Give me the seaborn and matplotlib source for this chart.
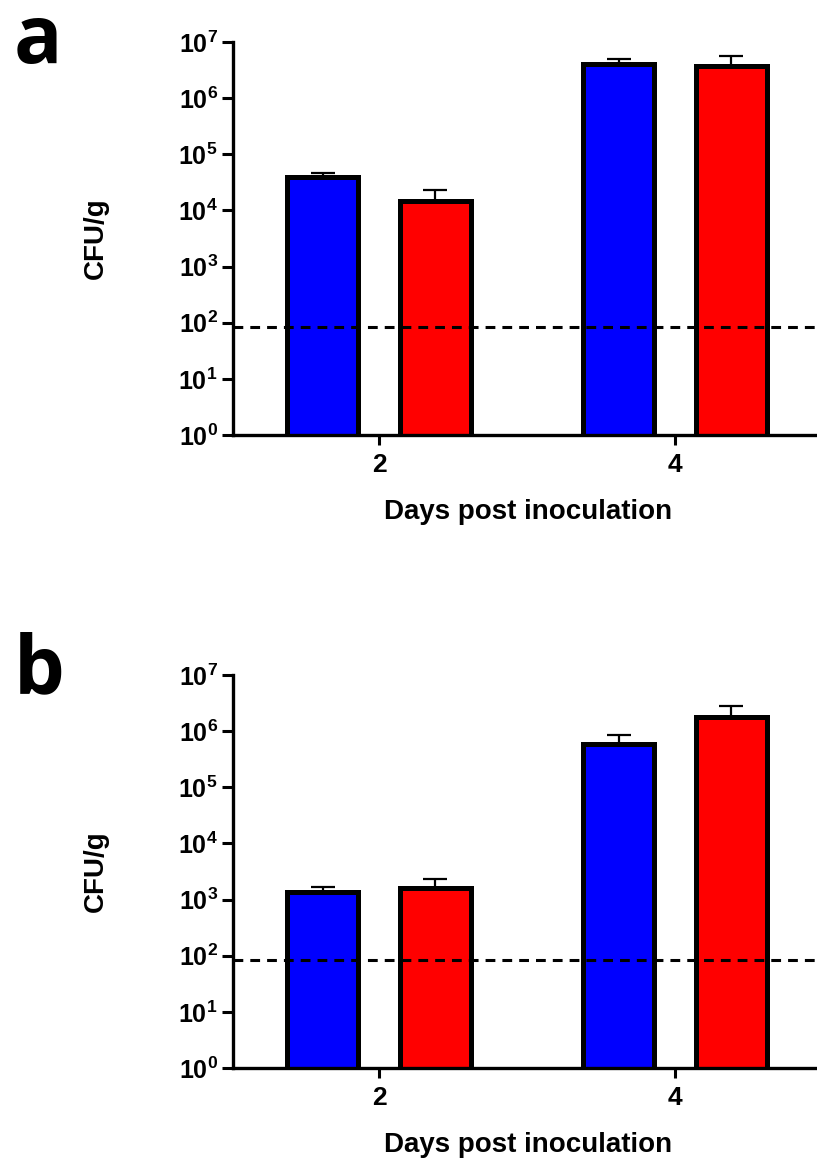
import matplotlib
matplotlib.use("Agg")
import matplotlib.pyplot as plt
import seaborn as sns
import pandas as pd
import numpy as np

# ---------------- data ----------------
days = ["2", "4"]
groups = ["Group 1", "Group 2"]
colors = ["#0000FF", "#FF0000"]

a_group1_mean = [3.9e4, 4.0e6]
a_group2_mean = [1.45e4, 3.7e6]
a_group1_upper = [4.7e4, 5.0e6]
a_group2_upper = [2.3e4, 5.7e6]

b_group1_mean = [1.37e3, 6.0e5]
b_group2_mean = [1.6e3, 1.75e6]
b_group1_upper = [1.7e3, 8.5e5]
b_group2_upper = [2.3e3, 2.8e6]

detection_limit = 85
ytick_exponents = [0, 1, 2, 3, 4, 5, 6, 7]
panel_letters = ["a", "b"]

# ---------------- style ----------------
sns.set_style("ticks")
plt.rcParams["font.family"] = ["Liberation Sans", "DejaVu Sans"]
plt.rcParams["mathtext.fontset"] = "custom"
plt.rcParams["mathtext.rm"] = "Liberation Sans"
plt.rcParams["mathtext.bf"] = "Liberation Sans:bold"
for key in ["text.color", "axes.labelcolor", "xtick.color", "ytick.color",
            "axes.edgecolor"]:
    plt.rcParams[key] = "black"

fig = plt.figure(figsize=(8.17, 11.62), dpi=100)

W, H = 817.0, 1162.0
ax_left = 233 / W
ax_width = 590 / W
positions = [
    [ax_left, 1 - 435 / H, ax_width, (435 - 42) / H],
    [ax_left, 1 - 1068 / H, ax_width, (1068 - 675) / H],
]

panels = [
    (a_group1_mean, a_group2_mean, a_group1_upper, a_group2_upper),
    (b_group1_mean, b_group2_mean, b_group1_upper, b_group2_upper),
]

letter_y = [63, 692]

for i, (m1, m2, u1, u2) in enumerate(panels):
    ax = fig.add_axes(positions[i])
    df = pd.DataFrame({
        "day": days * 2,
        "group": [groups[0]] * 2 + [groups[1]] * 2,
        "cfu": m1 + m2,
    })
    sns.barplot(data=df, x="day", y="cfu", hue="group", order=days,
                hue_order=groups, palette=colors, width=0.76, gap=0.37,
                errorbar=None, edgecolor="black", linewidth=3.6,
                saturation=1, legend=False, ax=ax, zorder=2)
    ax.set_yscale("log")
    uppers = [u1, u2]
    for cont, up in zip(ax.containers, uppers):
        xs = [p.get_x() + p.get_width() / 2 for p in cont.patches]
        hs = [p.get_height() for p in cont.patches]
        yerr = [np.zeros(len(hs)), np.array(up) - np.array(hs)]
        ax.errorbar(xs, hs, yerr=yerr, fmt="none", ecolor="black",
                    elinewidth=1.6, capsize=8.5, capthick=1.6, zorder=1)
    ax.axhline(detection_limit, color="black", lw=2.2,
               linestyle=(0, (3.2, 2.3)), zorder=5)

    ax.set_ylim(1, 1e7)
    ax.set_xlim(-0.493, 1.5)
    ax.set_yticks([10.0 ** e for e in ytick_exponents])
    ax.set_yticklabels([r"$\mathbf{10^{%d}}$" % e for e in ytick_exponents],
                       fontsize=18)
    ax.yaxis.set_minor_locator(matplotlib.ticker.NullLocator())
    ax.tick_params(axis="y", length=8, width=2.2, pad=3)
    ax.tick_params(axis="x", length=7, width=2.2, pad=6, labelsize=19)
    for lab in ax.get_xticklabels():
        lab.set_fontweight("bold")
    sns.despine(ax=ax)
    for s in ["left", "bottom"]:
        ax.spines[s].set_linewidth(2.4)
    ax.set_xlabel("Days post inoculation", fontsize=20, fontweight="bold")
    ax.set_ylabel("CFU/g", fontsize=20, fontweight="bold")
    ax.xaxis.set_label_coords(0.5, -0.163)
    ax.yaxis.set_label_coords(-0.21, 0.5)

    fig.text(14 / W, 1 - letter_y[i] / H, panel_letters[i], fontsize=58,
             fontweight="bold", family="Open Sans", ha="left",
             va="baseline", color="black")

fig.savefig("out.png", dpi=100)
